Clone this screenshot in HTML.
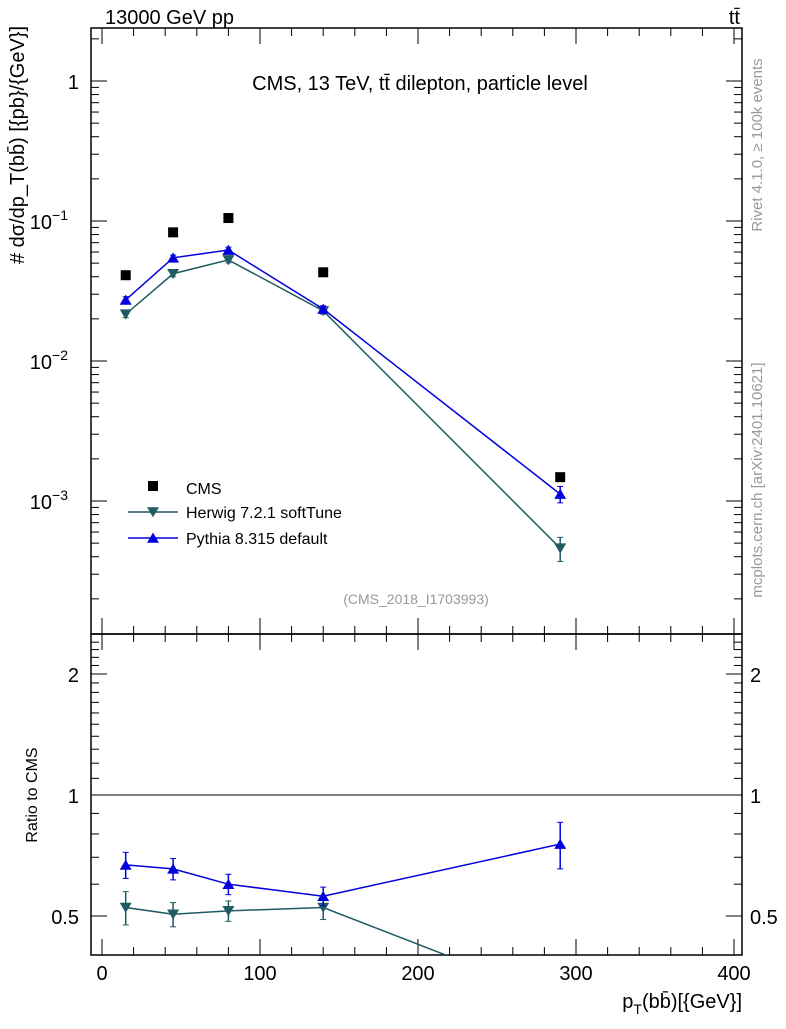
<!DOCTYPE html>
<html><head><meta charset="utf-8"><style>
body{margin:0;background:#fff;}
svg text{font-family:"Liberation Sans",sans-serif;}
</style></head><body>
<svg id="c" width="786" height="1024" xmlns="http://www.w3.org/2000/svg"></svg>
<script>
const xs=[15,45,80,140,290];
const cmsVals=[0.041,0.083,0.105,0.043,0.00148];
const herwigVals=[0.0216,0.042,0.0527,0.0228,0.00046];
const herwigErr=[0.0012,0.002,0.0025,0.0012,0.00009];
const pythiaVals=[0.0273,0.0546,0.062,0.0235,0.00112];
const pythiaErr=[0.0015,0.0025,0.003,0.0013,0.00015];
const herwigRatio=[0.525,0.505,0.515,0.525,0.31];
const herwigRatioErr=[0.05,0.035,0.03,0.035,0.06];
const pythiaRatio=[0.67,0.655,0.60,0.56,0.755];
const pythiaRatioErr=[0.05,0.04,0.035,0.03,0.1];
const xTicks=[0,100,200,300,400];
const NS="http://www.w3.org/2000/svg";
const svg=document.getElementById('c');
const L=91,R=742,T=28,M=634,B=955;
const X=v=>102+v*1.58;
const Y=v=>81-Math.log10(v)*140;
const YR=v=>795-Math.log10(v)*402;
function el(t,a,p){const e=document.createElementNS(NS,t);for(const k in a)e.setAttribute(k,a[k]);(p||svg).appendChild(e);return e;}
function tx(s,x,y,size,anchor,name,extra){const e=el('text',Object.assign({x:x,y:y,'font-size':size,'text-anchor':anchor||'start'},extra||{}));e.textContent=s;return e;}
const f1=el('rect',{x:L,y:T,width:R-L,height:M-T,fill:'none',stroke:'#000','stroke-width':1.5});

const f2=el('rect',{x:L,y:M,width:R-L,height:B-M,fill:'none',stroke:'#000','stroke-width':1.5});

for(let v=0;v<=400;v+=20){const x=X(v);const big=v%100===0;const h=big?16:8;
 [[T,1],[M,-1],[M,1],[B,-1]].forEach(([y0,d])=>el('line',{x1:x,x2:x,y1:y0,y2:y0+d*h,stroke:'#000'}));}
xTicks.forEach(v=>tx(String(v),X(v),980,20,'middle','x-tick-label'));
for(let d=-4;d<=0;d++){for(let m=1;m<10;m++){const v=m*Math.pow(10,d);const y=Y(v);if(y<T||y>M)continue;const h=m===1?16:8;
 el('line',{x1:L,x2:L+h,y1:y,y2:y,stroke:'#000'});el('line',{x1:R,x2:R-h,y1:y,y2:y,stroke:'#000'});}}
tx('1',79,89,20,'end','y-tick-1');
[['−1',221],['−2',361],['−3',501]].forEach(([e,y],i)=>{const t=tx('10',68,y+8,20,'end','y-tick-label');const s=el('tspan',{dy:-9,'font-size':14},t);s.textContent=e;});
for(let v=0.4;v<=2.5;v+=0.1){const y=YR(v);if(y<M||y>B)continue;const big=Math.abs(v-0.5)<1e-6||Math.abs(v-1)<1e-6||Math.abs(v-2)<1e-6;const h=big?16:8;
 el('line',{x1:L,x2:L+h,y1:y,y2:y,stroke:'#000'});el('line',{x1:R,x2:R-h,y1:y,y2:y,stroke:'#000'});}
[[2,'2'],[1,'1'],[0.5,'0.5']].forEach(([v,s])=>{tx(s,79,YR(v)+8,20,'end','ratio-tick-label');tx(s,750,YR(v)+8,20,'start','ratio-tick-label-right');});
el('line',{x1:L,x2:R,y1:YR(1),y2:YR(1),stroke:'#000'});
tx('13000 GeV pp',105,24,20,'start','energy-label');
tx('tt̄',740,24,20,'end','process-label');
tx('CMS, 13 TeV, tt̄ dilepton, particle level',420,90,20,'middle','plot-title');
tx('(CMS_2018_I1703993)',416,604,14,'middle','analysis-id',{fill:'#999'});
tx('# dσ/dp_T(bb̄) [{pb}/{GeV}]',0,0,20,'middle','y-axis-title',{transform:'translate(24,145) rotate(-90)'});
tx('Ratio to CMS',0,0,16,'middle','ratio-y-title',{transform:'translate(37,795) rotate(-90)'});
const xl=tx('p',742,1008,20,'end','x-axis-title');const sb=el('tspan',{dy:6,'font-size':14},xl);sb.textContent='T';const r2=el('tspan',{dy:-6},xl);r2.textContent='(bb̄)[{GeV}]';
tx('Rivet 4.1.0, ≥ 100k events',0,0,15,'middle','rivet-label',{fill:'#999',transform:'translate(762,145) rotate(-90)'});
tx('mcplots.cern.ch [arXiv:2401.10621]',0,0,15,'middle','mcplots-label',{fill:'#999',transform:'translate(762,480) rotate(-90)'});
const cp=el('clipPath',{id:'rc'});el('rect',{x:L,y:M,width:R-L,height:B-M},cp);
const cp2=el('clipPath',{id:'mc'});el('rect',{x:L,y:T,width:R-L,height:M-T},cp2);
function tri(g,x,y,down,col){const s=6;const p=down?`${x-s},${y-s*0.8} ${x+s},${y-s*0.8} ${x},${y+s*0.9}`:`${x-s},${y+s*0.8} ${x+s},${y+s*0.8} ${x},${y-s*0.9}`;return el('polygon',{points:p,fill:col},g);}
function series(vals,err,yf,col,down,name,clip){const g=el('g',{'clip-path':`url(#${clip})`});
 el('polyline',{points:xs.map((x,i)=>X(x)+','+yf(vals[i])).join(' '),fill:'none',stroke:col,'stroke-width':1.5},g);
 xs.forEach((x,i)=>{const y1=yf(vals[i]-err[i]),y2=yf(vals[i]+err[i]);el('line',{x1:X(x),x2:X(x),y1:y1,y2:y2,stroke:col,'stroke-width':1.5},g);
  el('line',{x1:X(x)-3,x2:X(x)+3,y1:y1,y2:y1,stroke:col},g);el('line',{x1:X(x)-3,x2:X(x)+3,y1:y2,y2:y2,stroke:col},g);
  const m=tri(g,X(x),yf(vals[i]),down,col);});}
series(herwigVals,herwigErr,Y,'#1f5b63',true,'herwig-series','mc');
series(pythiaVals,pythiaErr,Y,'#0000e0',false,'pythia-series','mc');
series(herwigRatio,herwigRatioErr,YR,'#1f5b63',true,'herwig-ratio','rc');
series(pythiaRatio,pythiaRatioErr,YR,'#0000e0',false,'pythia-ratio','rc');
xs.forEach((x,i)=>{const r=el('rect',{x:X(x)-5,y:Y(cmsVals[i])-5,width:10,height:10,fill:'#000'});});
const lg=el('g',{});
el('rect',{x:148,y:481,width:10,height:10,fill:'#000'},lg);tx('CMS',186,494,16,'start','legend-cms');
el('line',{x1:128,x2:178,y1:512,y2:512,stroke:'#1f5b63','stroke-width':1.5},lg);tri(lg,153,512,true,'#1f5b63');tx('Herwig 7.2.1 softTune',186,518,16,'start','legend-herwig');
el('line',{x1:128,x2:178,y1:538,y2:538,stroke:'#0000e0','stroke-width':1.5},lg);tri(lg,153,538,false,'#0000e0');tx('Pythia 8.315 default',186,544,16,'start','legend-pythia');
</script>
</body></html>
